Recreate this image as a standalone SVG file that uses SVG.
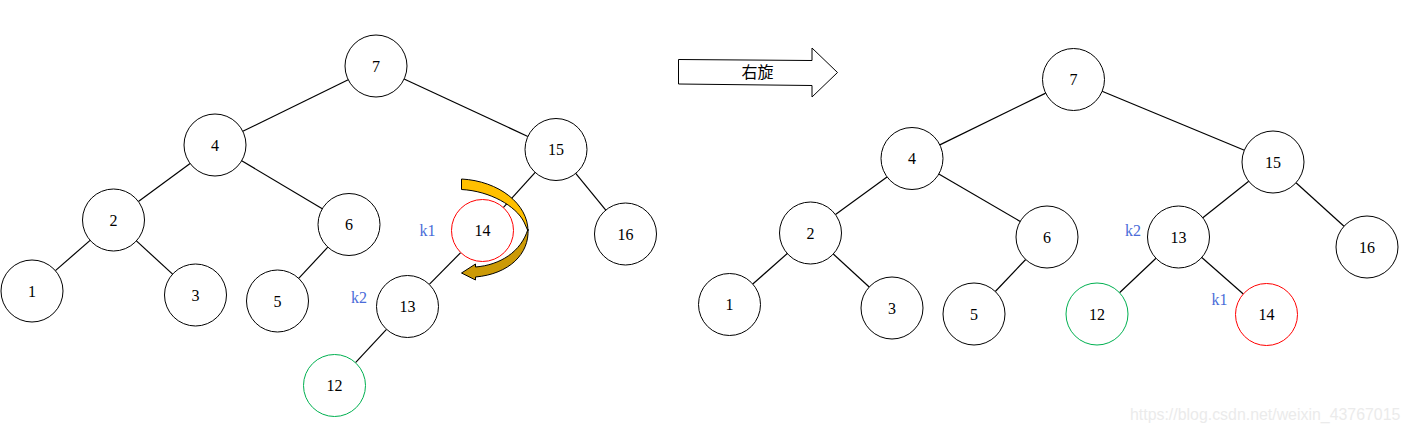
<svg xmlns="http://www.w3.org/2000/svg" width="1411" height="433" viewBox="0 0 1411 433">
<style>
.n circle{fill:#fff;stroke:#000;stroke-width:1}
.n.red circle{stroke:#ff0000}
.n.green circle{stroke:#00b050}
.n text{font-family:"Liberation Serif","Times New Roman",serif;font-size:16px;fill:#000;text-anchor:middle}
.edges line{stroke:#000;stroke-width:1.2}
.lbl{font-family:"Liberation Serif","Times New Roman",serif;font-size:16px;fill:#4a6cd8;text-anchor:middle}
.arr{stroke:#000;stroke-width:1}
</style>
<rect width="1411" height="433" fill="#fff"/>
<g class="edges">
<line x1="348.2" y1="79.7" x2="242.8" y2="131.3"/>
<line x1="404.1" y1="79.0" x2="527.9" y2="136.5"/>
<line x1="190.1" y1="163.4" x2="138.4" y2="201.6"/>
<line x1="241.7" y1="160.8" x2="322.3" y2="208.7"/>
<line x1="90.1" y1="240.4" x2="55.4" y2="270.6"/>
<line x1="136.4" y1="240.9" x2="172.6" y2="274.1"/>
<line x1="327.8" y1="247.2" x2="298.7" y2="278.3"/>
<line x1="535.2" y1="172.4" x2="503.3" y2="207.6"/>
<line x1="575.7" y1="173.4" x2="605.8" y2="210.1"/>
<line x1="460.7" y1="252.6" x2="429.3" y2="284.4"/>
<line x1="386.5" y1="329.3" x2="355.5" y2="362.7"/>
<line x1="1045.7" y1="93.1" x2="939.8" y2="144.9"/>
<line x1="1102.1" y1="91.3" x2="1244.4" y2="150.2"/>
<line x1="887.0" y1="176.9" x2="835.5" y2="214.6"/>
<line x1="938.8" y1="174.1" x2="1020.2" y2="221.4"/>
<line x1="787.3" y1="253.5" x2="752.8" y2="284.0"/>
<line x1="833.3" y1="254.0" x2="869.2" y2="287.0"/>
<line x1="1025.7" y1="259.5" x2="995.3" y2="291.5"/>
<line x1="1248.7" y1="181.3" x2="1202.8" y2="217.7"/>
<line x1="1296.0" y1="182.8" x2="1344.0" y2="226.2"/>
<line x1="1156.0" y1="258.3" x2="1119.5" y2="292.7"/>
<line x1="1201.8" y1="257.5" x2="1243.3" y2="294.0"/>
</g>
<g id="L7" class="n"><circle cx="376" cy="66" r="31"/><text x="376" y="71.5">7</text></g>
<g id="L4" class="n"><circle cx="215" cy="145" r="31"/><text x="215" y="150.5">4</text></g>
<g id="L15" class="n"><circle cx="556" cy="149.5" r="31"/><text x="556" y="155">15</text></g>
<g id="L2" class="n"><circle cx="113.5" cy="220" r="31"/><text x="113.5" y="225.5">2</text></g>
<g id="L6" class="n"><circle cx="349" cy="224.5" r="31"/><text x="349" y="230">6</text></g>
<g id="L14" class="n red"><circle cx="482.5" cy="230.5" r="31"/><text x="482.5" y="236">14</text></g>
<g id="L16" class="n"><circle cx="625.5" cy="234" r="31"/><text x="625.5" y="239.5">16</text></g>
<g id="L1" class="n"><circle cx="32" cy="291" r="31"/><text x="32" y="296.5">1</text></g>
<g id="L3" class="n"><circle cx="195.5" cy="295" r="31"/><text x="195.5" y="300.5">3</text></g>
<g id="L5" class="n"><circle cx="277.5" cy="301" r="31"/><text x="277.5" y="306.5">5</text></g>
<g id="L13" class="n"><circle cx="407.5" cy="306.5" r="31"/><text x="407.5" y="312">13</text></g>
<g id="L12" class="n green"><circle cx="334.5" cy="385.5" r="31"/><text x="334.5" y="391">12</text></g>
<g id="R7" class="n"><circle cx="1073.5" cy="79.5" r="31"/><text x="1073.5" y="85">7</text></g>
<g id="R4" class="n"><circle cx="912" cy="158.5" r="31"/><text x="912" y="164">4</text></g>
<g id="R15" class="n"><circle cx="1273" cy="162" r="31"/><text x="1273" y="167.5">15</text></g>
<g id="R2" class="n"><circle cx="810.5" cy="233" r="31"/><text x="810.5" y="238.5">2</text></g>
<g id="R6" class="n"><circle cx="1047" cy="237" r="31"/><text x="1047" y="242.5">6</text></g>
<g id="R13" class="n"><circle cx="1178.5" cy="237" r="31"/><text x="1178.5" y="242.5">13</text></g>
<g id="R16" class="n"><circle cx="1367" cy="247" r="31"/><text x="1367" y="252.5">16</text></g>
<g id="R1" class="n"><circle cx="729.5" cy="304.5" r="31"/><text x="729.5" y="310">1</text></g>
<g id="R3" class="n"><circle cx="892" cy="308" r="31"/><text x="892" y="313.5">3</text></g>
<g id="R5" class="n"><circle cx="974" cy="314" r="31"/><text x="974" y="319.5">5</text></g>
<g id="R12" class="n green"><circle cx="1097" cy="314" r="31"/><text x="1097" y="319.5">12</text></g>
<g id="R14" class="n red"><circle cx="1266.5" cy="314.5" r="31"/><text x="1266.5" y="320">14</text></g>
<g id="labels">
<text class="lbl" x="427.5" y="236">k1</text>
<text class="lbl" x="359" y="303">k2</text>
<text class="lbl" x="1133" y="236">k2</text>
<text class="lbl" x="1219.5" y="305">k1</text>
</g>
<g id="rotate-arrow">
<path class="arr" fill="#ffc000" d="M461.5,179 L461.5,189.5 C490,191 516,206 524,222 L528,231 C528,204 499,181 461.5,179 Z"/>
<path class="arr" fill="#cc9a06" d="M528,229 C529.5,254 509,274 475.5,277 L475.5,280 L461.5,273 L475.5,264 L475.5,267 C500,265 521,252 528,229 Z"/>
</g>
<g id="right-arrow">
<path fill="#fff" stroke="#000" stroke-width="1" d="M678.5,59.5 L812,60.5 L812,48 L837.5,72.5 L812,97 L812,85.5 L678.5,84 Z"/>
<text x="757.5" y="77.5" font-family="'Noto Sans CJK SC',sans-serif" font-size="16" fill="#000" text-anchor="middle">右旋</text>
</g>
<text x="1130" y="420" font-family="'Liberation Sans',Arial,sans-serif" font-size="15.9" fill="#ebebeb">https://blog.csdn.net/weixin_43767015</text>
</svg>
